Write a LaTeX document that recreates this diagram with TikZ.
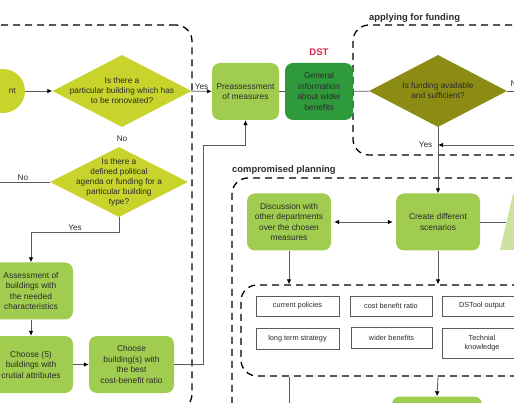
\documentclass[tikz,border=0pt]{standalone}
\usepackage{fontspec}
\setmainfont{Liberation Sans}
\usepackage{tikz}
\usetikzlibrary{arrows.meta,positioning,calc,shapes.geometric}
\definecolor{lime}{HTML}{C8D42C}
\definecolor{leaf}{HTML}{A0CD50}
\definecolor{forest}{HTML}{2F9A3C}
\definecolor{moss}{HTML}{8C8C14}
\definecolor{crim}{HTML}{D8284F}
\definecolor{ink}{HTML}{2A2A2A}
\definecolor{wirec}{HTML}{5A5A5A}
\begin{document}
\begin{tikzpicture}[x=1pt,y=-1pt,>={Latex[length=5pt,width=4.5pt,color=black]},
   box/.style={fill=#1,rounded corners=8pt,align=center,text=ink,font=\fontsize{8.4}{10.5}\selectfont,minimum height=57pt,inner sep=0pt},
   dia/.style={diamond,fill=#1,minimum width=139pt,minimum height=72pt,inner sep=0pt},
   qtxt/.style={align=center,text=ink,font=\fontsize{8.3}{10}\selectfont,inner sep=0pt},
   tag/.style={text=ink,font=\fontsize{8.2}{9}\selectfont,inner sep=1.5pt},
   head/.style={text=ink,font=\bfseries\fontsize{9.4}{10}\selectfont,inner sep=0pt},
   dbox/.style={draw=black,line width=1.3pt,dash pattern=on 7pt off 5pt,rounded corners=16pt,inner sep=0pt},
   item/.style={draw=wirec,line width=0.6pt,fill=white,align=center,text=ink,font=\fontsize{7.3}{9.2}\selectfont,inner sep=0pt},
   wire/.style={draw=wirec,line width=0.8pt}]
  \useasboundingbox (0,0) rectangle (514,403);
  \clip (0,0) rectangle (514,403);
  \node[dbox,minimum width=212pt,minimum height=385pt] (selB) at (86,217.5) {};
  \node[dbox,minimum width=247pt,minimum height=130pt] (fund) at (476.5,90) {};
  \node[dbox,minimum width=368pt,minimum height=272pt] (plan) at (416,314) {};
  \node[dbox,minimum width=318pt,minimum height=91pt] (crit) at (400,330.5) {};
  \node[head,anchor=base west] (hFund) at (369,21) {applying for funding};
  \node[head,anchor=base west] (hPlan) at (232,173) {compromised planning};
  \node[head,text=crim,font=\bfseries\fontsize{9.6}{10}\selectfont] (hDst) at (319,52) {DST};
  \node[circle,fill=lime,minimum size=44pt] (start) at (3,91) {};
  \node[qtxt,anchor=east] (tStart) at (16,91) {nt};
  \node[dia=lime] (qBuild) at (122,91) {};
  \node[qtxt] (tBuild) at (qBuild) {Is there a\\particular building which has\\to be ronovated?};
  \node[dia=lime,minimum width=138pt,minimum height=70pt] (qPol) at (119,182) {};
  \node[qtxt] (tPol) at (qPol) {Is there a\\defined political\\agenda or funding for a\\particular building\\type?};
  \node[dia=moss,minimum width=138pt] (qFund) at (438,91) {};
  \node[qtxt] (tFund) at (qFund) {Is funding available\\and sufficient?};
  \foreach \nm/\x/\y/\w/\c/\txt in
     {pre/245.5/91.5/67/leaf/{Preassessment\\of measures},
      gen/319/91.5/68/forest/{General\\information\\about wider\\benefits},
      disc/289/222/84/leaf/{Discussion with\\other departments\\over the chosen\\measures},
      scen/438/222/84/leaf/{Create different\\scenarios},
      assess/31/291/84/leaf/{Assessment of\\buildings with\\the needed\\characteristics},
      pick/31/364.5/84/leaf/{Choose (5)\\buildings with\\crutial attributes},
      best/131.5/364.5/85/leaf/{Choose\\building(s) with\\the best\\cost-benefit ratio},
      nxt/437/425/90/leaf/{}}{
     \node[box=\c,minimum width=\w pt] (\nm) at (\x,\y) {\txt};}
  \fill[leaf!55] (500,250) -- (513,194) -- (640,194) -- (650,250) -- cycle;
  \coordinate (outp) at (506,222);
  \foreach \nm/\x/\y/\w/\h/\txt in
     {cp/297.5/306/83/20/{current policies},
      cbr/391/306/82/20/{cost benefit ratio},
      dso/482/306/80/20/{DSTool output},
      lts/297.5/338.5/83/21/{long term strategy},
      wb/391.5/337.5/81/21/{wider benefits},
      tk/482/343/79/30/{Technial\\knowledge}}{
     \node[item,minimum width=\w pt,minimum height=\h pt] (\nm) at (\x,\y) {\txt};}
  \coordinate (fundR) at (540,91);
  \coordinate (backR) at (540,145);
  \coordinate (polL) at (-10,182);
  \coordinate (discOut) at (289,420);
  \draw[wire,->] (start) -- (qBuild);
  \draw[wire,->] (qBuild) -- node[tag,above,pos=0.5] (lYes1) {Yes} (pre);
  \draw[wire] (pre) -- (gen);
  \draw[wire] (gen) -- (qFund);
  \draw[wire] (qFund) -- (fundR);
  \node[tag,anchor=west] (lNo2) at (509,84) {No};
  \draw[wire,->] (qFund.south) -- (scen.north);
  \draw[wire,->] (backR) -- (qFund.south |- backR);
  \node[tag,anchor=east] (lYes2) at (434,145) {Yes};
  \draw[wire,<->,shorten <=3pt,shorten >=3pt] (disc) -- (scen);
  \draw[wire] (scen) -- (outp);
  \draw[wire,->] (disc.south) -- (disc.south |- crit.north);
  \draw[wire,->] (scen.south) -- (scen.south |- crit.north);
  \draw[wire] (disc.south |- crit.south) -- (discOut);
  \draw[wire,->] (scen.south |- crit.south) -- (nxt.north);
  \node[tag] (lNo1) at (122,139) {No};
  \draw[wire] (qPol) -- node[tag,above,pos=0.45] (lNo3) {No} (polL);
  \draw[wire,->] (qPol.south) -- ++(0,15) -| node[tag,above,pos=0.25] (lYes3) {Yes} (assess.north);
  \draw[wire,->] (assess) -- (pick);
  \draw[wire,->] (pick) -- (best);
  \draw[wire,->] (best.east) -| ++(29,-219) -| (pre.south);
\end{tikzpicture}
\end{document}
